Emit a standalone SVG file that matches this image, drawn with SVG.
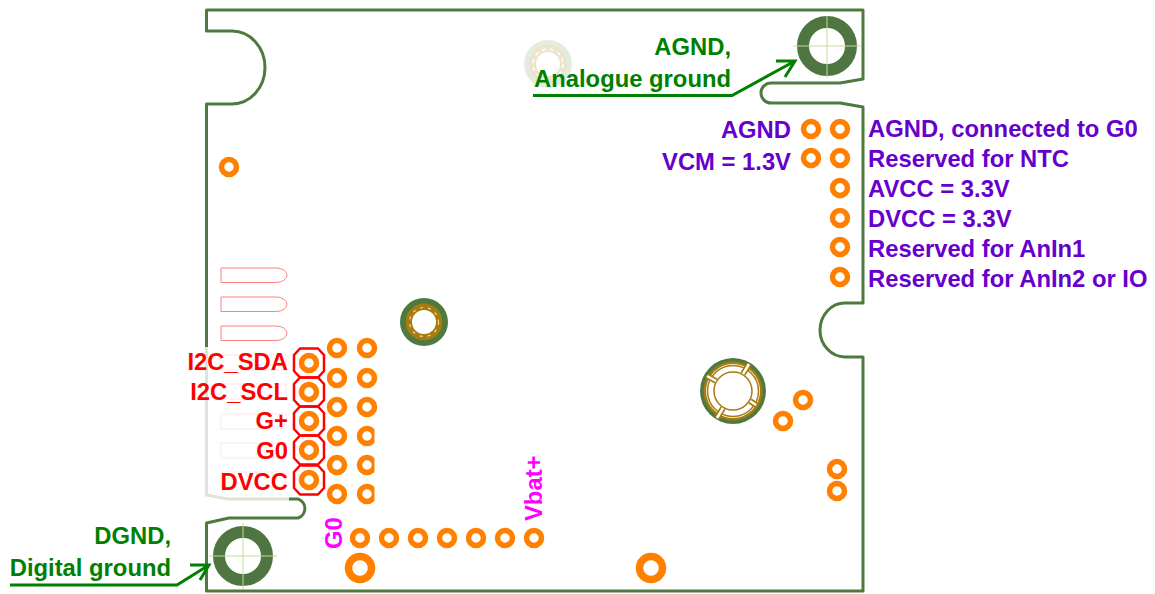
<svg xmlns="http://www.w3.org/2000/svg" width="1155" height="594" viewBox="0 0 1155 594">
<style>
text{font-family:"Liberation Sans",Arial,sans-serif;font-weight:700;font-size:23.8px}
.g{fill:#008000}.p{fill:#6600cc}.r{fill:#ff0000}.m{fill:#ff00ff}
.edge{fill:none;stroke:#4f7a3f;stroke-width:3;stroke-linejoin:round}
.pad{fill:none;stroke:#ff8000;stroke-width:5.500}
.big{fill:none;stroke:#ff8000;stroke-width:7.500}
.hole{fill:none;stroke:#4f7540;stroke-width:12}
.cross{stroke:#c8d8a0;stroke-width:1;fill:none}
.oct{fill:none;stroke:#ff0000;stroke-width:2.500;stroke-linejoin:round}
.slot{fill:#fff;stroke:#ff8080;stroke-width:1}
.faint{fill:#fff;stroke:#ffe6e6;stroke-width:1}
.lead{fill:none;stroke:#008000;stroke-width:3}
.ring{fill:none;stroke:#a67c10}
</style>
<defs>
<circle id="pad" r="7.500" class="pad"/>
<polygon id="oct" class="oct" points="-9,-14.500 9,-14.500 15,-8 15,8 9,14.500 -9,14.500 -15,8 -15,-8"/>
<path id="slot" class="slot" d="M221,0h55a11,7.250 0 0 1 0,14.500h-55z"/>
</defs>
<g id="board">
<path class="edge" d="M206.500 347V104H232A33 36.500 0 0 0 232 31H206.500V10H863V79L840 83H771A10 10 0 0 0 771 103H840L863 107V303H845A25 27 0 0 0 845 357H863V591H206.500V523L229 518H298A10 10 0 0 0 298 499H289"/>
<path d="M206.500 347V495L228 499H289" fill="none" stroke="#dce6d8" stroke-width="3"/>
</g>
<g id="slots">
<use href="#slot" y="268"/><use href="#slot" y="297"/><use href="#slot" y="326"/>
<rect class="faint" x="221" y="355" width="65" height="15"/>
<rect class="faint" x="221" y="384" width="65" height="15"/>
<rect class="faint" x="221" y="414" width="65" height="15"/>
<rect class="faint" x="221" y="443" width="65" height="15"/>
<rect class="faint" x="221" y="472" width="65" height="15"/>
</g>
<g id="hole-agnd"><circle class="hole" cx="827" cy="46" r="24"/><path class="cross" d="M793 46H861M827 16V78"/></g>
<g id="hole-dgnd"><circle class="hole" cx="243" cy="556" r="24"/><path class="cross" d="M209 556H277M243 523V589"/></g>
<g id="mount-top" opacity="0.3"><circle cx="548" cy="64" r="24" fill="#a9c29a"/><circle cx="548" cy="64" r="19" fill="#c9a860"/><circle cx="548" cy="64" r="15" fill="none" stroke="#fff" stroke-width="1.500" stroke-dasharray="4 4"/><circle cx="548" cy="64" r="12" fill="#fff"/></g>
<g id="mount-mid"><circle cx="424" cy="322" r="24" fill="#4f7a3f"/><circle cx="424" cy="322" r="18.500" fill="#a67c10"/><circle cx="424" cy="322" r="14.500" fill="none" stroke="#e8d898" stroke-width="1.200" stroke-dasharray="3 5"/><circle cx="424" cy="322" r="12" fill="#fff"/></g>
<g id="mount-big"><circle cx="733" cy="391" r="33" fill="#4f7a3f"/><circle cx="733" cy="391" r="29.500" fill="#a67c10"/><circle cx="733" cy="391" r="27" fill="#fff"/><circle cx="733" cy="391" r="25.500" class="ring" stroke-width="1.500"/><circle cx="733" cy="391" r="19" fill="#fff" class="ring" stroke-width="1.500"/><path class="ring" stroke-width="6" d="M743 374L749 364M716 381L707 376M723 408L717 418M750 401L756 405"/><path d="M743 374L749 364M716 381L707 376M723 408L717 418M750 401L756 405" stroke="#fff" stroke-width="2.500"/></g>
<g id="pads">
<use href="#pad" x="811" y="129"/><use href="#pad" x="840" y="129"/>
<use href="#pad" x="811" y="158"/><use href="#pad" x="840" y="158"/>
<use href="#pad" x="840" y="188"/><use href="#pad" x="840" y="218"/><use href="#pad" x="840" y="247"/><use href="#pad" x="840" y="277"/>
<use href="#pad" x="229" y="167"/>
<use href="#pad" x="337" y="348"/><use href="#pad" x="337" y="378"/><use href="#pad" x="337" y="407"/><use href="#pad" x="337" y="436"/><use href="#pad" x="337" y="465"/><use href="#pad" x="337" y="494"/>
<use href="#pad" x="367" y="348"/><use href="#pad" x="367" y="378"/><use href="#pad" x="367" y="407"/><use href="#pad" x="367" y="436"/><use href="#pad" x="367" y="465"/><use href="#pad" x="367" y="494"/>
<rect x="374.500" y="426" width="8" height="80" fill="#fff"/>
<use href="#pad" x="309" y="363"/><use href="#pad" x="309" y="392"/><use href="#pad" x="309" y="421"/><use href="#pad" x="309" y="450"/><use href="#pad" x="309" y="480"/>
<use href="#oct" x="309" y="363"/><use href="#oct" x="309" y="392"/><use href="#oct" x="309" y="421"/><use href="#oct" x="309" y="450"/><use href="#oct" x="309" y="480"/>
<use href="#pad" x="360" y="538"/><use href="#pad" x="389" y="538"/><use href="#pad" x="418" y="538"/><use href="#pad" x="447" y="538"/><use href="#pad" x="476" y="538"/><use href="#pad" x="505" y="538"/><use href="#pad" x="534" y="538"/>
<circle class="big" cx="360" cy="568" r="11.500"/><circle class="big" cx="651" cy="568" r="11.500"/>
<use href="#pad" x="783" y="421"/><use href="#pad" x="803" y="400"/>
<use href="#pad" x="837" y="469"/><use href="#pad" x="837" y="491"/>
</g>
<g id="connectors">
<path class="lead" d="M533 95.500H732L795 61M776 61L795 61L785 77"/>
<path class="lead" d="M10 585H177L209 565M190 565L209 565L200 580"/>
</g>
<g id="labels">
<text class="g" x="731" y="55" text-anchor="end">AGND,</text>
<text class="g" x="731" y="87" text-anchor="end">Analogue ground</text>
<text class="g" x="171" y="544" text-anchor="end">DGND,</text>
<text class="g" x="171" y="576" text-anchor="end">Digital ground</text>
<text class="p" x="791" y="137.500" text-anchor="end">AGND</text>
<text class="p" x="791" y="169.500" text-anchor="end">VCM = 1.3V</text>
<text class="p" x="868" y="137">AGND, connected to G0</text>
<text class="p" x="868" y="167">Reserved for NTC</text>
<text class="p" x="868" y="197">AVCC = 3.3V</text>
<text class="p" x="868" y="227">DVCC = 3.3V</text>
<text class="p" x="868" y="257">Reserved for AnIn1</text>
<text class="p" x="868" y="287">Reserved for AnIn2 or IO</text>
<text class="r" x="288" y="369.500" text-anchor="end">I2C_SDA</text>
<text class="r" x="288" y="399.500" text-anchor="end">I2C_SCL</text>
<text class="r" x="288" y="428.500" text-anchor="end">G+</text>
<text class="r" x="288" y="458.500" text-anchor="end">G0</text>
<text class="r" x="288" y="490" text-anchor="end">DVCC</text>
<text class="m" transform="translate(342,549) rotate(-90)">G0</text>
<text class="m" transform="translate(542,521) rotate(-90)">Vbat+</text>
</g>
</svg>
